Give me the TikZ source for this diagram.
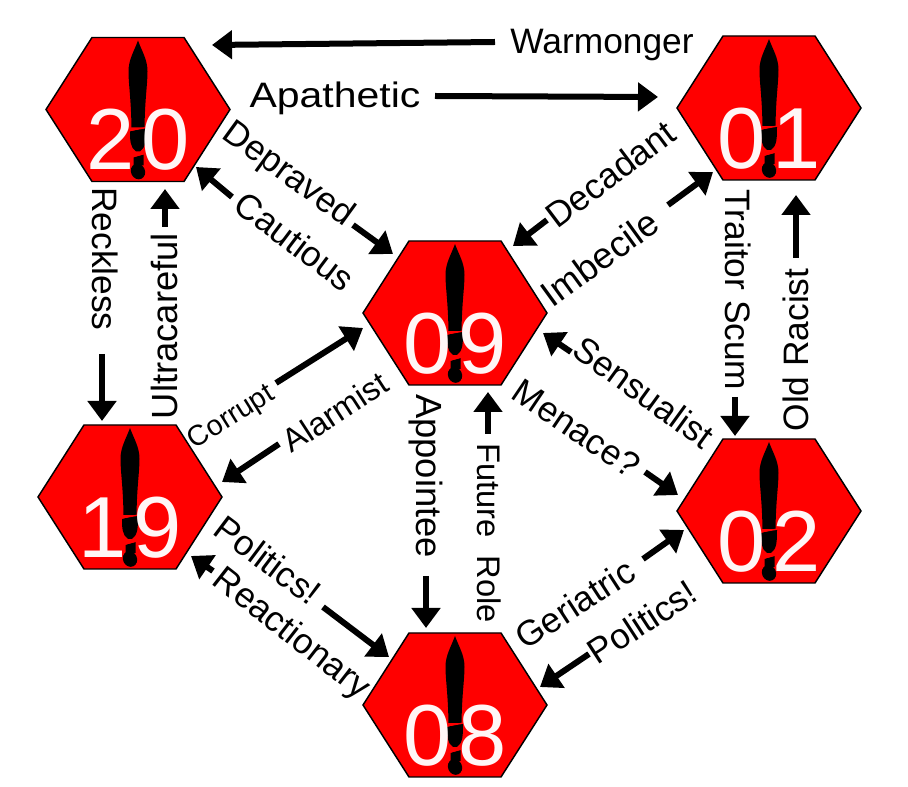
\documentclass[tikz,border=0pt]{standalone}
\usepackage{fontspec}
\setmainfont{Liberation Sans}
\usetikzlibrary{arrows.meta}
\definecolor{digitw}{HTML}{FFF6F6}
\tikzset{
  x=0.75pt,y=-0.75pt,
  hexshape/.style={fill=red,draw=black,line width=1.1pt,line join=miter},
  digits/.style={text=digitw,font=\fontsize{65}{65}\selectfont,inner sep=0pt,anchor=base},
  link/.style={line width=4.5pt,-{Triangle[length=15pt,width=21pt]}},
  lab/.style={font=\fontsize{26.5}{28}\selectfont,inner sep=0pt,text height=19pt,text depth=0pt,text=black},
  labbig/.style={lab,font=\fontsize{27.3}{29}\selectfont},
  labfut/.style={lab,font=\fontsize{24.5}{26}\selectfont,text height=17.5pt},
  labsmall/.style={lab,font=\fontsize{21.5}{24}\selectfont,text height=15.5pt},
  labmid/.style={lab,font=\fontsize{24.5}{26}\selectfont,text height=17.5pt}
}
\newcommand{\hexa}[5]{%
  \begin{scope}[shift={(#2,#3)}]
    \draw[hexshape] (-92,0) -- (-46,-72) -- (46,-72) -- (92,0) -- (46,72) -- (-46,72) -- cycle;
    \fill[black] (0,-69) .. controls (4,-58) and (9.5,-50) .. (9.5,-38)
       .. controls (9.5,-25) and (7,-12) .. (6.5,18)
       -- (-6.5,18) .. controls (-7,-12) and (-9.5,-25) .. (-9.5,-38)
       .. controls (-9.5,-50) and (-4,-58) .. (0,-69) -- cycle;
    \fill[black] (-8,22) -- (8,18) .. controls (8,30) and (8,38) .. (2,42) -- (-2,42) .. controls (-8,38) and (-8,30) .. (-8,22) -- cycle;
    \fill[black] (-4.5,48) -- (5.5,45) -- (5.5,56) -- (-4.5,56) -- cycle;
    \fill[black,rotate around={25:(0,62)}] (0,62) ellipse (7 and 8);
    \draw[red,line width=1pt] (-12,21.5) -- (12,17.5);
    \draw[red,line width=1pt] (-9,48) -- (9,43.5);
    \node[digits] (#1) at (0,60.5) {#4\kern5.5pt #5};
  \end{scope}%
}
\newcommand{\arrowlink}[5]{%
  \coordinate (#1t) at (#2,#3);
  \coordinate (#1h) at (#4,#5);
  \draw[link] (#1t) -- (#1h);%
}
\begin{document}
\begin{tikzpicture}
\useasboundingbox (0,0) rectangle (908,787);
\hexa{h20}{138}{109.5}{2}{0}
\hexa{h01}{769}{108}{0}{1}
\hexa{h09}{455}{313}{0}{9}
\hexa{h19}{130}{497}{1}{9}
\hexa{h02}{769}{511}{0}{2}
\hexa{h08}{455}{705}{0}{8}

\node[lab] (lwar) at (602,41) {Warmonger};
\node[lab] (lapa) at (335,94.5) {\scalebox{1.16}[1]{Apathetic}};
\node[lab,rotate=-36] (ldep) at (290,172) {Depraved};
\node[lab,rotate=-37] (lcau) at (295,241) {Cautious};
\node[lab,rotate=37] (ldec) at (610,174) {Decadant};
\node[labbig,rotate=36] (limb) at (600,258) {Imbecile};
\node[lab,rotate=-36] (lsen) at (644,392) {Sensualist};
\node[lab,rotate=-34] (lmen) at (577,428) {Menace?};
\node[labsmall,rotate=32] (lcor) at (230,415) {Corrupt};
\node[labmid,rotate=33] (lala) at (335,412) {Alarmist};
\node[lab,rotate=-37] (lpol) at (268,560) {Politics!};
\node[lab,rotate=-38] (lrea) at (293,632) {Reactionary};
\node[lab,rotate=33] (lger) at (575,604) {Geriatric};
\node[lab,rotate=33] (lpor) at (642,622) {Politics!};
\node[labbig,rotate=-90] (lapp) at (429,476) {Appointee};
\node[labfut,rotate=-90] (lfut) at (489,533) {Future\ \ Role};
\node[lab,rotate=-90] (lrec) at (105,259) {Reckless};
\node[labbig,rotate=90] (lult) at (165,326) {Ultracareful};
\node[lab,rotate=-90] (ltra) at (738,290) {Traitor Scum};
\node[lab,rotate=90] (lold) at (796,350) {Old Racist};

\arrowlink{a1}{495}{42}{212}{45}
\arrowlink{a2}{435}{96}{658}{97}
\arrowlink{a3}{353}{225}{393}{254}
\arrowlink{a4}{232}{197}{196}{167}
\arrowlink{a5}{547}{220}{513}{246}
\arrowlink{a6}{668}{205}{713}{172}
\arrowlink{a7}{571}{352}{543}{333}
\arrowlink{a8}{645}{472}{678}{495}
\arrowlink{a9}{276}{383}{363}{328}
\arrowlink{a10}{279}{444}{222}{482}
\arrowlink{a11}{323}{607}{389}{657}
\arrowlink{a12}{213}{571}{191}{556}
\arrowlink{a13}{643}{559}{684}{530}
\arrowlink{a14}{589}{654}{540}{687}
\arrowlink{a15}{426}{576}{426}{628}
\arrowlink{a16}{488}{434}{488}{392}
\arrowlink{a17}{102}{354}{102}{421}
\arrowlink{a18}{165}{227}{165}{189}
\arrowlink{a19}{735}{397}{735}{436}
\arrowlink{a20}{796}{258}{796}{195}
\end{tikzpicture}
\end{document}
